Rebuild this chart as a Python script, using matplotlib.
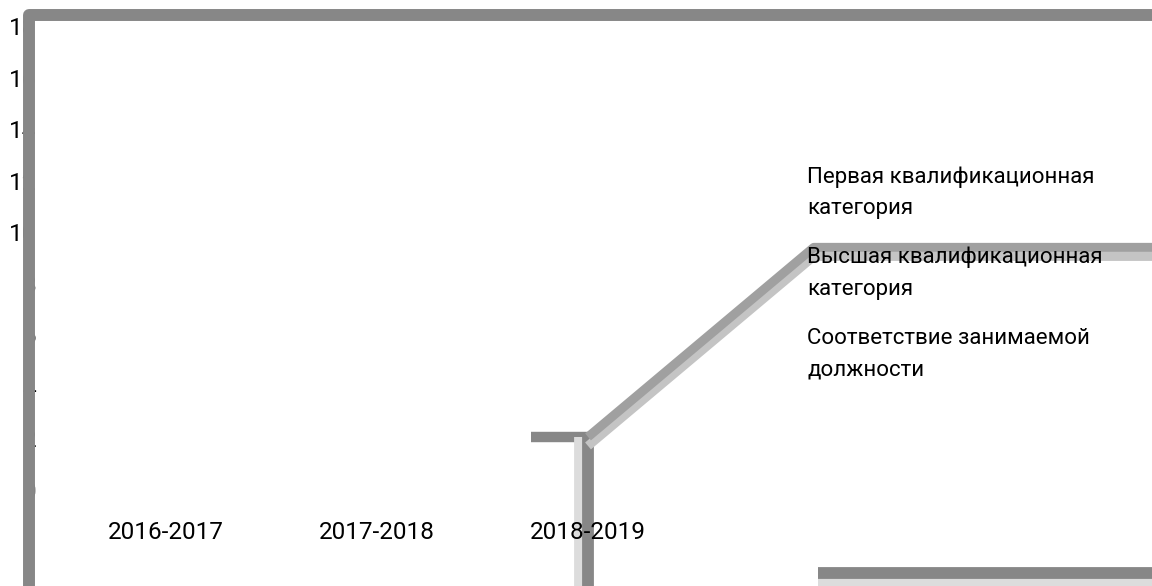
import numpy as np
import matplotlib.pyplot as plt
import matplotlib.patheffects as pe

plt.rcParams['font.family'] = ['Roboto', 'DejaVu Sans']

## data
years = ["2016-2017", "2017-2018", "2018-2019"]
y_ticks = [0, 2, 4, 6, 8, 10, 12, 14, 16, 18]
legend_labels = ["Первая квалификационная\nкатегория",
                 "Высшая квалификационная\nкатегория",
                 "Соответствие занимаемой\nдолжности"]
legend_y = [11.63, 8.5, 5.35]

# broken series lines (category index, value)
frame_x = [-0.651, -0.651, 4.8]
frame_y = [-4.0, 18.52, 18.52]
stub_x = [1.73, 2.0]
stub_y = [2.14, 2.14]
rise_x = [2.0, 3.07, 4.8]
rise_y = [2.14, 9.5, 9.5]
drop_x = [2.0, 2.0]
drop_y = [2.14, -4.0]
floor_x = [3.09, 4.8]
floor_y = [-3.15, -3.15]

gray = '#878787'
light = '#dcdcdc'

fig = plt.figure(figsize=(11.52, 5.86), dpi=100)
ax = fig.add_axes([0, 0, 1, 1])
ax.axis('off')
ax.set_xlim(-0.787, 4.673)
ax.set_ylim(-3.650, 19.107)

## y tick labels (mostly hidden behind the border)
for v in y_ticks:
    ax.text(-0.616, v, str(v), ha='right', va='center', fontsize=17.5, zorder=1)

## lines
ax.plot(stub_x, stub_y, color=gray, lw=7.5, solid_capstyle='butt', zorder=2)
ax.plot(drop_x, drop_y, color=gray, lw=8.5, solid_capstyle='butt', zorder=2,
        path_effects=[pe.SimpleLineShadow(offset=(-6, 0), shadow_color=light, alpha=1), pe.Normal()])
ax.plot(rise_x, rise_y, color='#a0a0a0', lw=6.5, solid_capstyle='butt', zorder=2,
        path_effects=[pe.SimpleLineShadow(offset=(0, -6.5), shadow_color='#c4c4c4', alpha=1), pe.Normal()])
ax.plot(floor_x, floor_y, color=gray, lw=8.5, solid_capstyle='butt', zorder=2,
        path_effects=[pe.SimpleLineShadow(offset=(0, -6), shadow_color=light, alpha=1), pe.Normal()])
ax.plot(frame_x, frame_y, color=gray, lw=8.6, solid_joinstyle='round', zorder=3)

## category labels
for i, yr in enumerate(years):
    ax.text(i, -1.59, yr, ha='center', va='center', fontsize=17.5, zorder=4)

## legend text
for lab, ly in zip(legend_labels, legend_y):
    ax.text(3.04, ly, lab, ha='left', va='center', fontsize=16, linespacing=1.64, zorder=4)

fig.savefig('out.png', dpi=100)
